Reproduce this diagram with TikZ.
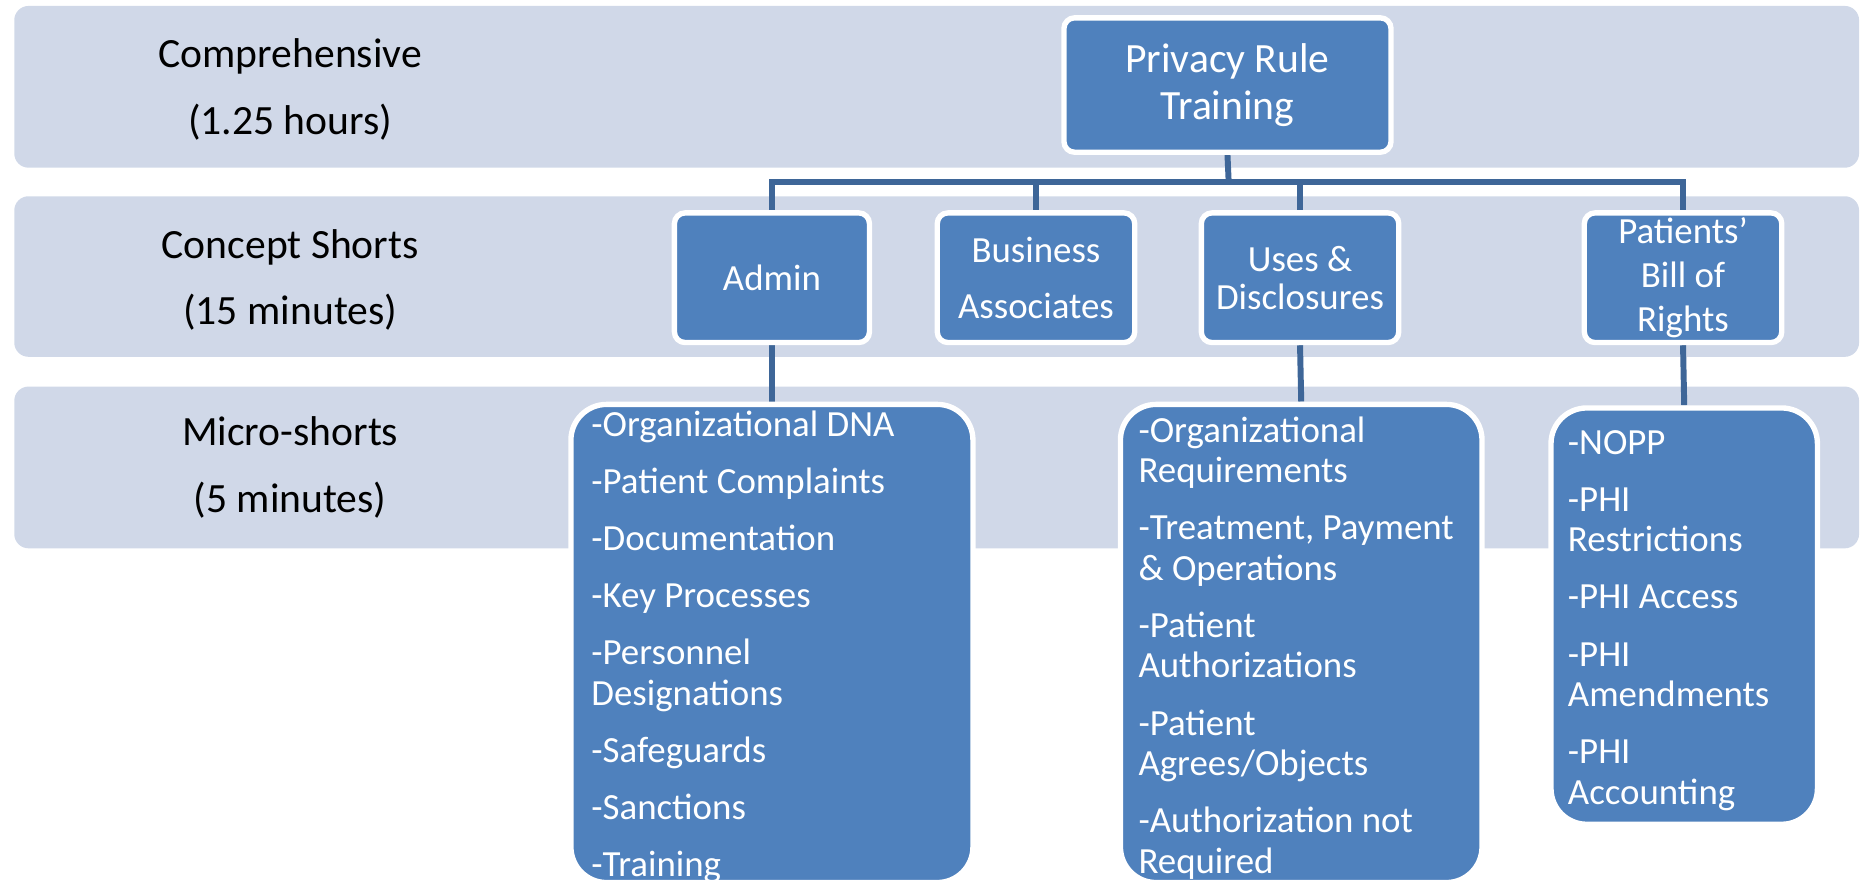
\documentclass[tikz,border=0pt]{standalone}
\usepackage{fontspec}
\setmainfont{Carlito}
\usetikzlibrary{backgrounds}
\definecolor{bandblue}{RGB}{208,216,232}
\definecolor{boxblue}{RGB}{79,129,189}
\definecolor{linkblue}{RGB}{62,102,152}
\tikzset{
  band/.style={fill=bandblue, rounded corners=12pt},
  rowlabel/.style={align=center, font=\fontsize{35}{56}\selectfont},
  topic/.style={draw=white, line width=4.5pt, fill=boxblue, rounded corners=9pt,
    text=white, align=center, inner sep=0pt, font=\fontsize{31}{37}\selectfont},
  listbox/.style={draw=white, line width=4.5pt, fill=boxblue, rounded corners=30pt},
  listtext/.style={anchor=base west, inner sep=0pt, text=white},
  link/.style={draw=linkblue, line width=5pt}
}
\newcommand{\itemlist}[1]{\parbox[t]{320pt}{\fontsize{31}{34}\selectfont
  \setlength{\parskip}{14pt}\raggedright #1}}

\begin{document}
\begin{tikzpicture}[x=1pt, y=-1pt]
\useasboundingbox (0,0) rectangle (1568,745.7);
\coordinate (hub) at (1033,153);

\node[rowlabel] (comp) at (244,75) {Comprehensive\\(1.25 hours)};
\node[rowlabel] (conc) at (244,235.5) {Concept Shorts\\(15 minutes)};
\node[rowlabel] (micro) at (244,393) {Micro-shorts\\(5 minutes)};

\node[topic, minimum width=275pt, minimum height=113pt,
  font=\fontsize{35}{40}\selectfont] (prt) at (1032,71.5) {Privacy Rule\\Training};

\node[topic, minimum width=164pt, minimum height=109pt] (admin) at (649,233.5) {Admin};
\node[topic, minimum width=166pt, minimum height=109pt] (busa) at (871,233.5) {Business\\[10pt]Associates};
\node[topic, minimum width=166pt, minimum height=109pt] (uses) at (1093,233.5) {Uses \&\\[-5pt]Disclosures};
\node[topic, minimum width=166pt, minimum height=109pt] (pbr) at (1415,233.5) {Patients’\\Bill of\\Rights};

\node[listbox, minimum width=338pt, minimum height=402pt] (admList) at (649,541) {};
\node[listbox, minimum width=304pt, minimum height=402pt] (usesList) at (1094,541) {};
\node[listbox, minimum width=224pt, minimum height=350pt] (pbrList) at (1416,518) {};

\node[listtext] (admText) at (497,367) {\itemlist{-Organizational DNA\par
  -Patient Complaints\par -Documentation\par -Key Processes\par
  -Personnel\\Designations\par -Safeguards\par -Sanctions\par -Training}};
\node[listtext] (usesText) at (957,372) {\itemlist{-Organizational\\Requirements\par
  -Treatment, Payment\\\& Operations\par -Patient\\Authorizations\par
  -Patient\\Agrees/Objects\par -Authorization not\\Required}};
\node[listtext] (pbrText) at (1318,382) {\itemlist{-NOPP\par -PHI\\Restrictions\par
  -PHI Access\par -PHI\\Amendments\par -PHI\\Accounting}};

\begin{scope}[on background layer]
\fill[band] (12,5) rectangle (1563,141);
\fill[band] (12,165) rectangle (1563,300);
\fill[band] (12,325) rectangle (1563,461);
\draw[link] (prt.south) -- (hub);
\foreach \n in {admin,busa,uses,pbr}
  \draw[link] (hub) -| (\n.north);
\foreach \a/\b in {admin/admList, uses/usesList, pbr/pbrList}
  \draw[link] (\a.south) -- (\b.north);
\end{scope}
\end{tikzpicture}
\end{document}
